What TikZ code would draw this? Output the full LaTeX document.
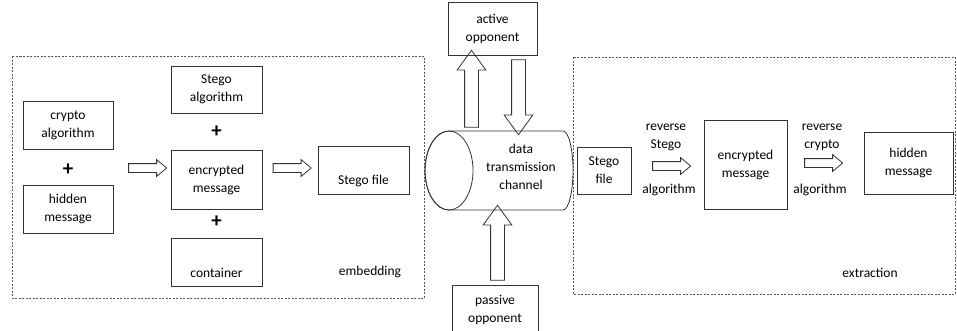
\documentclass[tikz,border=0pt]{standalone}
\usepackage{fontspec}
\setmainfont{Carlito}
\usetikzlibrary{shapes.arrows}

\begin{document}
\begin{tikzpicture}[x=1pt,y=-1pt,line width=0.8pt,
  font=\fontsize{13.5}{18}\selectfont,
  box/.style={draw=black!80,align=center,inner sep=0pt},
  frame/.style={draw=black!65,dash pattern=on 2pt off 1.5pt,line width=0.7pt},
  hollow/.style={single arrow,draw=black!80,inner xsep=0pt,inner ysep=4pt,
    single arrow head extend=4pt,single arrow tip angle=80,minimum height=38pt},
  bigarrow/.style={single arrow,draw=black!80,inner xsep=0pt,inner ysep=6.5pt,
    single arrow head extend=7.5pt,single arrow tip angle=72,rotate=#1},
  plus/.style={font=\fontsize{21}{21}\bfseries\selectfont,inner sep=0pt}]
\useasboundingbox (0,0) rectangle (957,330);
% embedding
\draw[frame] (12,56) rectangle (424,298);
\node[box,minimum width=90pt,minimum height=48pt] (crypto) at (68,125) {crypto\\algorithm};
\node[plus] (plusA) at (68,170) {+};
\node[box,minimum width=90pt,minimum height=48pt] (hidden) at (68,209) {hidden\\message};
\node[box,minimum width=91pt,minimum height=47pt] (stegoalg) at (216.5,89.5) {Stego\\algorithm};
\node[plus] (plusB) at (216.5,132) {+};
\node[box,minimum width=91pt,minimum height=59pt] (encr) at (216.5,179.5) {encrypted\\message};
\node[plus] (plusC) at (216.5,222) {+};
\node[box,minimum width=91pt,minimum height=48pt] (cont) at (216.5,262) {\strut\\container};
\node[box,minimum width=91pt,minimum height=48pt] (sfile) at (363.5,170) {\strut\\Stego file};
\node[hollow] (arrA) at (145,168) {};
\node[hollow] (arrB) at (289.5,168) {};
\node (emb) at (370,272) {embedding};
% channel and opponents
\coordinate (chanL) at (449,170.5);
\draw[black!80,fill=white] (449,131) -- (563,131) arc[start angle=-90,end angle=90,x radius=10,y radius=39.5]
  -- (449,210) arc[start angle=90,end angle=270,x radius=24,y radius=39.5] -- cycle;
\draw[black!80] (chanL) ellipse[x radius=24,y radius=39.5];
\node[align=center] (chan) at (521,167) {data\\transmission\\channel};
\node[box,minimum width=89pt,minimum height=53pt] (active) at (492.5,28.5) {active\\opponent};
\node[box,minimum width=86pt,minimum height=50pt] (passive) at (495,310) {passive\\opponent};
\node[bigarrow=90,minimum height=77pt] (up) at (471.5,93.5) {};
\node[bigarrow=-90,minimum height=75pt] (down) at (518.5,92.5) {};
\node[bigarrow=90,minimum height=75pt] (tap) at (497.5,247.5) {};
% extraction
\draw[frame] (573,57) rectangle (955,294);
\node[box,minimum width=54pt,minimum height=47pt] (sfile2) at (604,170.5) {Stego\\file};
\node[box,minimum width=83pt,minimum height=89pt] (encr2) at (745.5,164.5) {encrypted\\message};
\node[box,minimum width=89pt,minimum height=62pt] (hidden2) at (908.5,163) {hidden\\message};
\node[hollow] (arrC) at (669,166) {};
\node[hollow] (arrD) at (821,163) {};
\node[align=center] (revS) at (666,137) {reverse\\Stego};
\node (algS) at (669,190) {algorithm};
\node[align=center] (revC) at (822,137) {reverse\\crypto};
\node (algC) at (820,190) {algorithm};
\node (ext) at (870,273) {extraction};
\end{tikzpicture}
\end{document}
